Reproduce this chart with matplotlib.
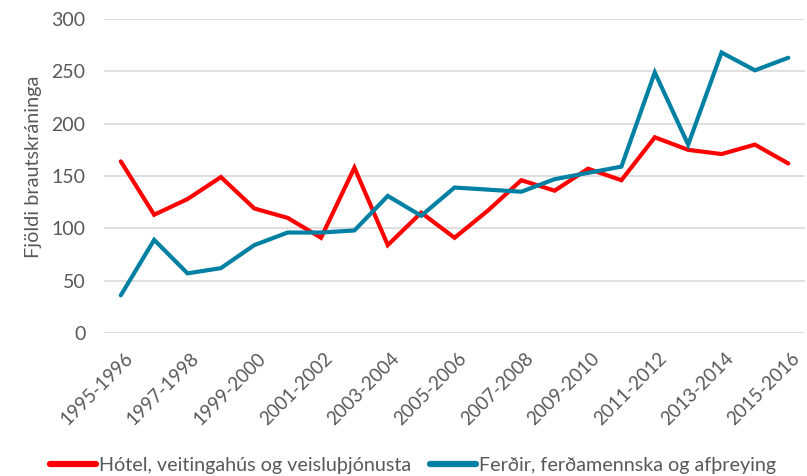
import matplotlib
matplotlib.use("Agg")
import matplotlib.pyplot as plt
import matplotlib.transforms as mtransforms

periods = [f"{y}-{y+1}" for y in range(1995, 2016)]
hotel = [164, 113, 128, 149, 119, 110, 91, 158, 84, 115, 91, 117, 146, 136, 157, 146, 187, 175, 171, 180, 162]
ferdir = [36, 89, 57, 62, 84, 96, 96, 98, 131, 112, 139, 137, 135, 147, 153, 159, 249, 180, 268, 251, 263]
series_names = ["Hótel, veitingahús og veisluþjónusta", "Ferðir, ferðamennska og afþreying"]
y_ticks = [0, 50, 100, 150, 200, 250, 300]
y_label = "Fjöldi brautskráninga"

plt.rcParams['font.family'] = ['Lato', 'DejaVu Sans']
txt = '#595959'

fig = plt.figure(figsize=(8.07, 4.76), dpi=100)
ax = fig.add_axes([0.129, 0.3004, 0.8685, 0.6596])

x = list(range(len(periods)))
ax.plot(x, hotel, color='#FF0000', lw=3, solid_capstyle='round', solid_joinstyle='miter', label=series_names[0], zorder=3)
ax.plot(x, ferdir, color='#0081A3', lw=3, solid_capstyle='round', solid_joinstyle='miter', label=series_names[1], zorder=3)

ax.set_xlim(-0.5, len(periods) - 0.5)
ax.set_ylim(0, 300)
ax.set_yticks(y_ticks)
ax.set_xticks(x[::2])
ax.set_xticklabels(periods[::2], rotation=45, ha='right', rotation_mode='anchor', color=txt, fontsize=13.5)
ax.tick_params(axis='both', length=0, colors=txt)
ax.tick_params(axis='y', pad=13.5, labelsize=14)
ax.tick_params(axis='x', pad=12)
offset = mtransforms.ScaledTranslation(3 / 100, 0, fig.dpi_scale_trans)
for lab in ax.get_xticklabels():
    lab.set_transform(lab.get_transform() + offset)
ax.grid(axis='y', color='#D9D9D9', lw=1.2)
ax.set_axisbelow(True)
for s in ax.spines.values():
    s.set_visible(False)
fig.text(33.5 / 807, 1 - 167 / 476, y_label, rotation=90, ha='center', va='center', color=txt, fontsize=14.3)

leg = fig.legend(loc='center', bbox_to_anchor=(413 / 807, 1 - 465 / 476), ncol=2, frameon=False,
                 fontsize=14.2, handlelength=2.3, handletextpad=0.15, columnspacing=1.0,
                 borderaxespad=0, borderpad=0)
for t in leg.get_texts():
    t.set_color(txt)
for h in leg.get_lines():
    h.set_linewidth(4.5)
    h.set_solid_capstyle('round')

fig.savefig('out.png', dpi=100)
